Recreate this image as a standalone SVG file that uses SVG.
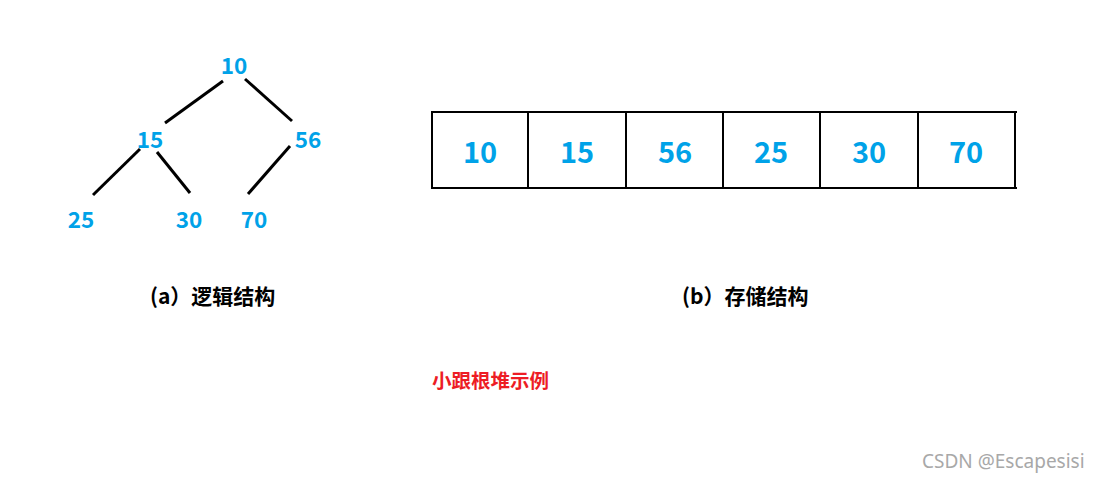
<svg xmlns="http://www.w3.org/2000/svg" width="1101" height="482" viewBox="0 0 1101 482">
<style>
.num{font-family:"Noto Sans CJK SC","Noto Sans",sans-serif;font-weight:bold;fill:#00A2E8;text-anchor:middle}
.t{font-size:22.5px}
.a{font-size:29px}
.edge{stroke:#000;stroke-width:3;fill:none}
.lbl{font-family:"Noto Sans CJK SC",sans-serif;font-weight:bold;font-size:21px;fill:#000}
</style>
<rect width="1101" height="482" fill="#fff"/>
<g id="connectors">
<line class="edge" x1="223" y1="81" x2="165" y2="123"/>
<line class="edge" x1="245" y1="79" x2="292" y2="121"/>
<line class="edge" x1="140" y1="149" x2="93" y2="195"/>
<line class="edge" x1="157" y1="152" x2="190" y2="193"/>
<line class="edge" x1="290" y1="146" x2="248" y2="194"/>
</g>
<g id="n10"><text class="num t" x="234" y="74">10</text></g>
<g id="n15"><text class="num t" x="150" y="148">15</text></g>
<g id="n56"><text class="num t" x="308" y="148">56</text></g>
<g id="n25"><text class="num t" x="81" y="228">25</text></g>
<g id="n30"><text class="num t" x="189" y="228">30</text></g>
<g id="n70"><text class="num t" x="254" y="228">70</text></g>
<g id="array">
<line x1="431" y1="112" x2="1017" y2="112" stroke="#000" stroke-width="2"/>
<line x1="431" y1="188" x2="1017" y2="188" stroke="#000" stroke-width="2"/>
<line x1="432" y1="111" x2="432" y2="189" stroke="#000" stroke-width="2"/>
<line x1="528" y1="111" x2="528" y2="189" stroke="#000" stroke-width="2"/>
<line x1="626" y1="111" x2="626" y2="189" stroke="#000" stroke-width="2"/>
<line x1="723" y1="111" x2="723" y2="189" stroke="#000" stroke-width="2"/>
<line x1="820" y1="111" x2="820" y2="189" stroke="#000" stroke-width="2"/>
<line x1="918" y1="111" x2="918" y2="189" stroke="#000" stroke-width="2"/>
<line x1="1015" y1="111" x2="1015" y2="187" stroke="#000" stroke-width="2"/>
<text class="num a" x="480" y="163">10</text>
<text class="num a" x="577" y="163">15</text>
<text class="num a" x="675" y="163">56</text>
<text class="num a" x="771" y="163">25</text>
<text class="num a" x="869" y="163">30</text>
<text class="num a" x="966" y="163">70</text>
</g>
<g id="labelA"><text class="lbl" x="150" y="304">(a）逻辑结构</text></g>
<g id="labelB"><text class="lbl" x="682" y="304">(b）存储结构</text></g>
<g id="title"><text x="432" y="388" font-family="Noto Sans CJK SC,sans-serif" font-weight="bold" font-size="19.5" fill="#ED1C24">小跟根堆示例</text></g>
<g id="watermark"><text x="922" y="468" font-family="Noto Sans,sans-serif" font-size="19" fill="#A8A8A8">CSDN @Escapesisi</text></g>
</svg>
